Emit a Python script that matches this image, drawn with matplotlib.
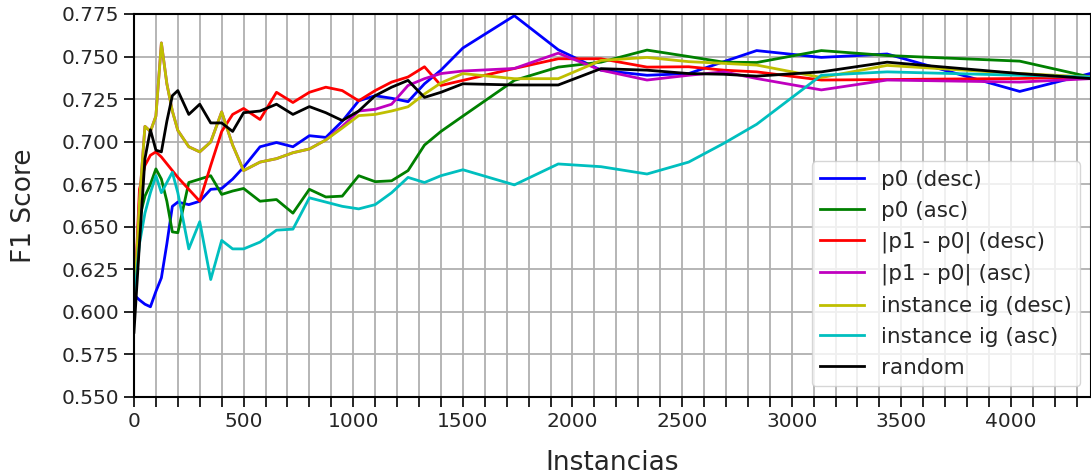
import matplotlib
matplotlib.use("Agg")
from matplotlib import pyplot as plt
from matplotlib.ticker import MultipleLocator

# number of instances at each evaluation step
instancias = [0, 25, 50, 75, 100, 125, 150, 175, 200, 250, 300, 350, 400, 450, 500,
              575, 650, 725, 800, 875, 950, 1025, 1100, 1175, 1250, 1325, 1400, 1500,
              1735, 1935, 2130, 2340, 2530, 2690, 2840, 3135, 3435, 4040, 4360]

p0_desc = [0.610, 0.607, 0.6045, 0.603, 0.612, 0.620, 0.640, 0.662, 0.6645, 0.663, 0.665, 0.672, 0.6725, 0.678, 0.685,
           0.697, 0.6995, 0.697, 0.7035, 0.7025, 0.712, 0.724, 0.727, 0.7255, 0.7235, 0.734, 0.742, 0.755,
           0.774, 0.754, 0.742, 0.739, 0.740, 0.747, 0.7535, 0.7495, 0.7515, 0.7295, 0.740]

p0_asc = [0.600, 0.655, 0.668, 0.675, 0.684, 0.678, 0.665, 0.647, 0.6465, 0.676, 0.678, 0.680, 0.669, 0.671, 0.6725,
          0.665, 0.666, 0.658, 0.672, 0.6675, 0.668, 0.680, 0.6765, 0.677, 0.683, 0.698, 0.706, 0.715,
          0.736, 0.7438, 0.7467, 0.7538, 0.750, 0.7467, 0.7465, 0.7535, 0.7506, 0.7473, 0.738]

diff_desc = [0.600, 0.672, 0.686, 0.692, 0.694, 0.691, 0.687, 0.683, 0.679, 0.672, 0.665, 0.686, 0.706, 0.716, 0.7195,
             0.713, 0.729, 0.723, 0.729, 0.732, 0.730, 0.724, 0.730, 0.735, 0.738, 0.744, 0.733, 0.736,
             0.743, 0.7487, 0.7487, 0.7438, 0.744, 0.742, 0.741, 0.7362, 0.7365, 0.7371, 0.738]

diff_asc = [0.600, 0.665, 0.709, 0.706, 0.715, 0.758, 0.734, 0.718, 0.7066, 0.697, 0.694, 0.6998, 0.7175, 0.698, 0.683,
            0.688, 0.690, 0.6935, 0.6957, 0.701, 0.709, 0.718, 0.719, 0.722, 0.733, 0.737, 0.740, 0.7415,
            0.743, 0.752, 0.742, 0.7362, 0.739, 0.741, 0.7371, 0.7304, 0.7362, 0.735, 0.737]

ig_desc = [0.600, 0.665, 0.709, 0.706, 0.715, 0.758, 0.734, 0.718, 0.7066, 0.697, 0.694, 0.6998, 0.7175, 0.698, 0.683,
           0.688, 0.690, 0.6935, 0.6957, 0.701, 0.708, 0.7153, 0.716, 0.718, 0.7205, 0.728, 0.7345, 0.740,
           0.737, 0.737, 0.7477, 0.7495, 0.747, 0.746, 0.745, 0.7377, 0.7448, 0.740, 0.738]

ig_asc = [0.605, 0.640, 0.658, 0.670, 0.680, 0.670, 0.676, 0.682, 0.670, 0.637, 0.653, 0.619, 0.642, 0.637, 0.637,
          0.641, 0.648, 0.6486, 0.667, 0.6645, 0.662, 0.6605, 0.663, 0.670, 0.679, 0.676, 0.680, 0.6835,
          0.6746, 0.6869, 0.6853, 0.681, 0.688, 0.699, 0.7102, 0.739, 0.741, 0.739, 0.738]

random_order = [0.588, 0.640, 0.690, 0.707, 0.695, 0.694, 0.712, 0.727, 0.730, 0.716, 0.722, 0.711, 0.711, 0.706, 0.717,
                0.718, 0.722, 0.716, 0.7206, 0.717, 0.7124, 0.718, 0.727, 0.732, 0.736, 0.726, 0.729, 0.734,
                0.7333, 0.7333, 0.7429, 0.742, 0.740, 0.7396, 0.7385, 0.741, 0.7467, 0.740, 0.7371]

series = [
	(p0_desc, "b", "p0 (desc)"),
	(p0_asc, "g", "p0 (asc)"),
	(diff_desc, "r", "|p1 - p0| (desc)"),
	(diff_asc, "m", "|p1 - p0| (asc)"),
	(ig_desc, "y", "instance ig (desc)"),
	(ig_asc, "c", "instance ig (asc)"),
	(random_order, "k", "random"),
]

text_color = "#262626"

fig = plt.figure(figsize=(10.91, 4.76), dpi=100)
ax = fig.add_axes([0.1228, 0.166, 0.8772, 0.8046])

for values, color, label in series:
	ax.plot(instancias, values, color=color, lw=2, label=label)

ax.set_xlim(0, 4365)
ax.set_ylim(0.55, 0.775)
ax.xaxis.set_major_locator(MultipleLocator(500))
ax.xaxis.set_minor_locator(MultipleLocator(100))
ax.yaxis.set_major_locator(MultipleLocator(0.025))
ax.yaxis.set_major_formatter(matplotlib.ticker.FormatStrFormatter("%.3f"))

ax.grid(True, which="both", color="#b0b0b0", lw=1.3)
ax.set_axisbelow(True)
ax.tick_params(which="both", direction="out", length=7, width=1.2, color="k",
               labelsize=14.5, labelcolor=text_color)
for s in ax.spines.values():
	s.set_linewidth(1.5)

ax.set_xlabel("Instancias", fontsize=19, color=text_color, labelpad=14)
ax.set_ylabel("F1 Score", fontsize=19, color=text_color, labelpad=18)

leg = ax.legend(loc="lower right", fontsize=15.5, framealpha=0.8, edgecolor="#cccccc",
                handlelength=2, labelspacing=0.5, borderaxespad=0.5)
for t in leg.get_texts():
	t.set_color(text_color)

fig.savefig("out.png", dpi=100)
